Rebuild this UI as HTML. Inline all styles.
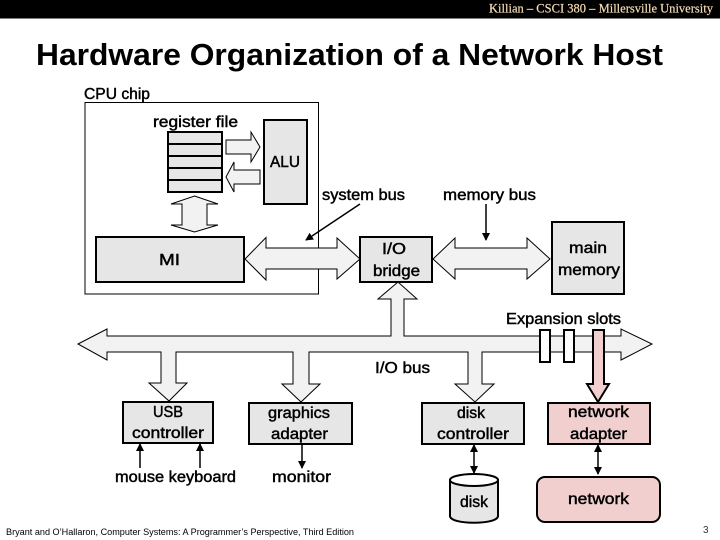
<!DOCTYPE html>
<html><head><meta charset="utf-8"><style>
html,body{margin:0;padding:0;background:#fff}
svg{display:block}
.t{font-family:"Liberation Sans",sans-serif;font-size:15.5px;fill:#000;stroke:#000;stroke-width:.45}
.a{fill:#f2f2f2;stroke:#000;stroke-width:1}
.b{fill:#e6e6e6;stroke:#000;stroke-width:2}
.p{fill:#f2cfcf;stroke:#000;stroke-width:2}
.l{stroke:#000;stroke-width:1.5;fill:none}
</style></head><body>
<svg width="720" height="540" viewBox="0 0 720 540" xmlns="http://www.w3.org/2000/svg">
<defs><marker id="h" markerWidth="8" markerHeight="8" refX="7" refY="4" orient="auto-start-reverse" markerUnits="userSpaceOnUse"><path d="M0 0L8 4L0 8Z" fill="#000"/></marker></defs>
<rect width="720" height="540" fill="#fff"/>
<rect width="720" height="18.5" fill="#000"/>
<text x="489" y="12.5" textLength="224" lengthAdjust="spacingAndGlyphs" font-family="Liberation Serif,serif" font-size="13" fill="#f6dcb4" stroke="#f6dcb4" stroke-width=".2">Killian – CSCI 380 – Millersville University</text>
<text x="36" y="65" textLength="627" lengthAdjust="spacingAndGlyphs" font-family="Liberation Sans,sans-serif" font-weight="bold" font-size="31" fill="#000">Hardware Organization of a Network Host</text>

<rect x="85" y="102.500" width="233.500" height="191.500" fill="#fff" stroke="#000" stroke-width="1"/>
<rect class="b" x="168" y="132" width="54" height="60"/>
<path d="M168 144H222M168 156H222M168 168H222M168 180H222" stroke="#000" stroke-width="2"/>
<rect class="b" x="264" y="120" width="43" height="84"/>
<path class="a" d="M226 140H251V132L260 147L251 162V154H226Z"/>
<path class="a" d="M260 170H234V162L226 177L234 192V184H260Z"/>
<path class="a" d="M194.500 196L218 204H207V225H218L194.500 232L171 225H182V204H171Z"/>
<rect class="b" x="96" y="237" width="148" height="45"/>

<path class="a" d="M245 259L266 237.500V248H337V238L360 259L337 279V269H266V280Z"/>
<rect class="b" x="360" y="237" width="72" height="45"/>
<path class="a" d="M433 259L455 238V248H527V238L550 259L527 279V269H455V279Z"/>
<rect class="b" x="552" y="222" width="72" height="72"/>

<path class="a" d="M78 344L107 329V336H391V299H378L398 282L417 299H404V336H621V329L652 344L621 360V352H482V384H494L475 402L455 384H468V352H309V384H320L301 402L282 384H293V352H176V383H187L169 401L149 383H161V352H107V360Z"/>
<rect x="540" y="330" width="10" height="32" fill="#fff" stroke="#000" stroke-width="2"/>
<rect x="564" y="330" width="10" height="32" fill="#fff" stroke="#000" stroke-width="2"/>
<path class="p" d="M593 330H604V384H609L598 402L587 384H593Z"/>

<rect class="b" x="123" y="402" width="90" height="41"/>
<rect class="b" x="249" y="403" width="103" height="41"/>
<rect class="b" x="422" y="403" width="102" height="41"/>
<rect class="p" x="548" y="403" width="102" height="41"/>

<path d="M450 480V516C450 525 498 525 498 516V480Z" fill="#e6e6e6" stroke="#000" stroke-width="2"/>
<ellipse cx="474" cy="480" rx="24" ry="6" fill="#fff" stroke="#000" stroke-width="2"/>
<rect class="p" x="537" y="477" width="123" height="45" rx="8"/>

<line class="l" x1="360" y1="204" x2="306" y2="240" marker-end="url(#h)"/>
<line class="l" x1="486" y1="204" x2="486" y2="240" marker-end="url(#h)"/>
<line class="l" x1="140" y1="468" x2="140" y2="444" marker-end="url(#h)"/>
<line class="l" x1="200" y1="468" x2="200" y2="444" marker-end="url(#h)"/>
<line class="l" x1="302" y1="444" x2="302" y2="468" marker-end="url(#h)"/>
<line class="l" x1="474" y1="445" x2="474" y2="473" marker-start="url(#h)" marker-end="url(#h)"/>
<line class="l" x1="598" y1="445" x2="598" y2="474" marker-start="url(#h)" marker-end="url(#h)"/>

<text class="t" x="84" y="99" textLength="66" lengthAdjust="spacingAndGlyphs">CPU chip</text>
<text class="t" x="153" y="127" textLength="85" lengthAdjust="spacingAndGlyphs">register file</text>
<text class="t" x="270" y="167" textLength="30" lengthAdjust="spacingAndGlyphs">ALU</text>
<text class="t" x="322" y="200" textLength="83" lengthAdjust="spacingAndGlyphs">system bus</text>
<text class="t" x="443" y="200" textLength="93" lengthAdjust="spacingAndGlyphs">memory bus</text>
<text class="t" x="159" y="265" textLength="21" lengthAdjust="spacingAndGlyphs">MI</text>
<text class="t" x="382" y="254" textLength="24" lengthAdjust="spacingAndGlyphs">I/O</text>
<text class="t" x="373" y="276" textLength="47" lengthAdjust="spacingAndGlyphs">bridge</text>
<text class="t" x="569" y="253" textLength="38" lengthAdjust="spacingAndGlyphs">main</text>
<text class="t" x="558" y="275" textLength="62" lengthAdjust="spacingAndGlyphs">memory</text>
<text class="t" x="506" y="324" textLength="115" lengthAdjust="spacingAndGlyphs">Expansion slots</text>
<text class="t" x="375" y="373" textLength="55" lengthAdjust="spacingAndGlyphs">I/O bus</text>
<text class="t" x="153" y="417" textLength="30" lengthAdjust="spacingAndGlyphs">USB</text>
<text class="t" x="132" y="438" textLength="72" lengthAdjust="spacingAndGlyphs">controller</text>
<text class="t" x="268" y="418" textLength="62" lengthAdjust="spacingAndGlyphs">graphics</text>
<text class="t" x="271" y="439" textLength="57" lengthAdjust="spacingAndGlyphs">adapter</text>
<text class="t" x="115" y="482" textLength="121" lengthAdjust="spacingAndGlyphs">mouse keyboard</text>
<text class="t" x="272" y="482" textLength="59" lengthAdjust="spacingAndGlyphs">monitor</text>
<text class="t" x="457" y="418" textLength="28" lengthAdjust="spacingAndGlyphs">disk</text>
<text class="t" x="437" y="439" textLength="72" lengthAdjust="spacingAndGlyphs">controller</text>
<text class="t" x="568" y="417" textLength="61" lengthAdjust="spacingAndGlyphs">network</text>
<text class="t" x="570" y="439" textLength="57" lengthAdjust="spacingAndGlyphs">adapter</text>
<text class="t" x="460" y="507" textLength="28" lengthAdjust="spacingAndGlyphs">disk</text>
<text class="t" x="568" y="504" textLength="61" lengthAdjust="spacingAndGlyphs">network</text>
<text x="6" y="535" textLength="348" lengthAdjust="spacingAndGlyphs" font-family="Liberation Sans,sans-serif" font-size="9" fill="#000">Bryant and O’Hallaron, Computer Systems: A Programmer’s Perspective, Third Edition</text>
<text x="703" y="533" font-family="Liberation Sans,sans-serif" font-size="10" fill="#333">3</text>
</svg>
</body></html>
